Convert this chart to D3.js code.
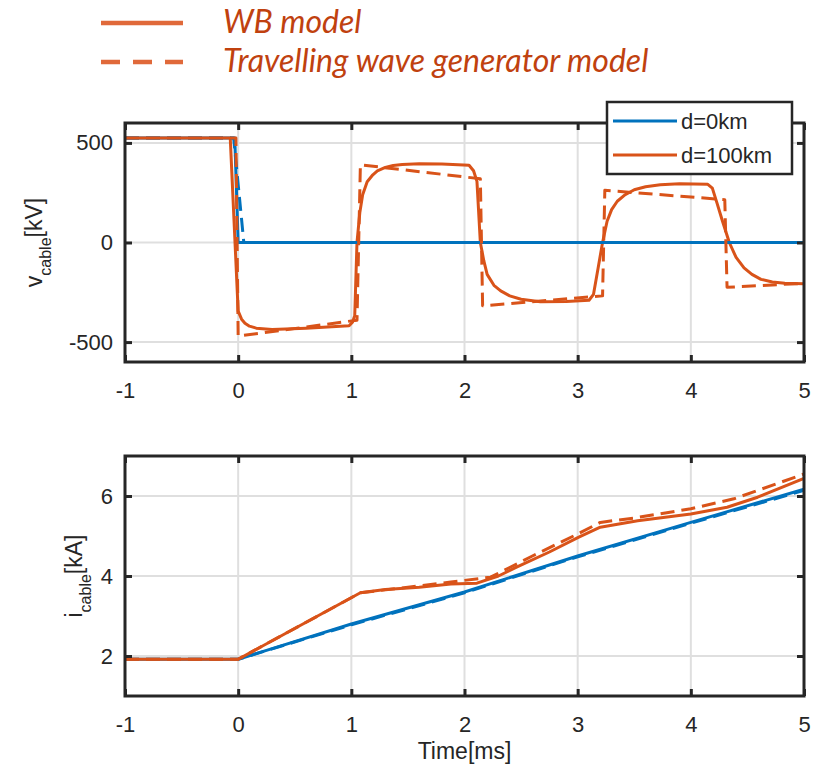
<!DOCTYPE html>
<html>
<head>
<meta charset="utf-8">
<script src="https://cdn.jsdelivr.net/npm/d3@7"></script>
<style>
  body { margin: 0; background: #fff; }
  svg { display: block; }
  text { font-family: "Liberation Sans", Arial, Helvetica, sans-serif; fill: #262626; }
</style>
</head>
<body>
<div id="chart"></div>
<script>
// ---------------- data ----------------
const xTicks = [-1, 0, 1, 2, 3, 4, 5];
const vTicks = [-500, 0, 500];
const iTicks = [2, 4, 6];

// voltage, d=0km
const vWB0_t = [-1, -0.03, 0.0, 5];
const vWB0_v = [525, 525, 0, 0];
const vTW0_t = [-1, -0.04, 0.05, 5];
const vTW0_v = [525, 525, 0, 0];

// voltage, d=100km, WB model
const vWB100_t = [-1, -0.07, 0.0, 0.03, 0.06, 0.1, 0.16, 0.3, 0.6, 0.98, 1.01, 1.03, 1.05, 1.075, 1.1, 1.14, 1.19, 1.23, 1.3, 1.37, 1.45, 1.6, 1.8, 2.04, 2.08, 2.11, 2.14, 2.17, 2.2, 2.26, 2.32, 2.4, 2.5, 2.67, 2.9, 3.1, 3.14, 3.18, 3.22, 3.26, 3.3, 3.35, 3.42, 3.5, 3.6, 3.73, 3.9, 4.15, 4.19, 4.23, 4.28, 4.34, 4.4, 4.47, 4.54, 4.62, 4.72, 4.83, 5];
const vWB100_v = [525, 525, -345, -385, -405, -420, -430, -437, -430, -418, -400, -368, 0, 150, 240, 305, 340, 360, 377, 387, 392, 396, 394, 388, 360, 307, 0, -90, -160, -215, -243, -268, -285, -297, -296, -290, -260, -130, 0, 107, 165, 207, 240, 265, 280, 290, 295, 292, 273, 200, 107, 0, -75, -127, -160, -185, -198, -205, -207];

// voltage, d=100km, travelling wave generator model
const vTW100_t = [-1, -0.02, 0.0, 1.05, 1.08, 2.14, 2.16, 3.22, 3.24, 4.3, 4.32, 5];
const vTW100_v = [525, 525, -470, -390, 390, 320, -318, -268, 262, 215, -225, -205];

// current, d=0km
const iWB0_t = [-1, 0, 1, 2, 3, 4, 5];
const iWB0_v = [1.92, 1.92, 2.8, 3.6, 4.5, 5.34, 6.17];
const iTW0_t = [-1, 0, 1, 2, 3, 4, 5];
const iTW0_v = [1.92, 1.92, 2.78, 3.58, 4.48, 5.32, 6.14];

// current, d=100km
const iWB100_t = [-1, 0, 1.08, 1.3, 1.6, 1.88, 2.11, 2.3, 2.46, 2.75, 3.01, 3.2, 3.53, 4.0, 4.32, 4.59, 5];
const iWB100_v = [1.92, 1.92, 3.58, 3.66, 3.72, 3.8, 3.82, 4.0, 4.22, 4.6, 4.97, 5.22, 5.38, 5.55, 5.72, 5.97, 6.44];
const iTW100_t = [-1, 0, 1.08, 1.5, 1.88, 2.23, 2.6, 3.0, 3.2, 3.5, 4.0, 4.38, 5];
const iTW100_v = [1.92, 1.92, 3.58, 3.72, 3.85, 3.97, 4.5, 5.05, 5.34, 5.45, 5.68, 5.93, 6.55];

const legendTop = ["WB model", "Travelling wave generator model"];
const legendBox = ["d=0km", "d=100km"];

// ---------------- setup ----------------
const width = 828, height = 770;
const blue = "#0072BD", orange = "#D95319";
const axisColor = "#262626", gridColor = "#dfdfdf";

const svg = d3.select("#chart").append("svg")
  .attr("width", width).attr("height", height);

const xScale = d3.scaleLinear().domain([-1, 5]).range([125, 804]);
const fmt = d => String(d); // plain hyphen minus, like the original

const zip = (t, v) => t.map((d, i) => ({ t: d, v: v[i] }));

function panel(cfg) {
  const y = d3.scaleLinear().domain(cfg.domain).range([cfg.bottom, cfg.top]);
  const g = svg.append("g");
  const x0 = xScale.range()[0], x1 = xScale.range()[1];

  // grid
  g.append("g").selectAll("line").data(xTicks.slice(1, -1)).join("line")
    .attr("x1", d => xScale(d)).attr("x2", d => xScale(d))
    .attr("y1", cfg.top).attr("y2", cfg.bottom)
    .attr("stroke", gridColor).attr("stroke-width", 2);
  g.append("g").selectAll("line").data(cfg.ticks).join("line")
    .attr("x1", x0).attr("x2", x1)
    .attr("y1", d => y(d)).attr("y2", d => y(d))
    .attr("stroke", gridColor).attr("stroke-width", 2);

  // lines
  const line = d3.line().x(d => xScale(d.t)).y(d => y(d.v));
  cfg.series.forEach(s => {
    g.append("path").datum(zip(s.t, s.v))
      .attr("d", line)
      .attr("fill", "none")
      .attr("stroke", s.color)
      .attr("stroke-width", 3)
      .attr("stroke-linejoin", "round")
      .attr("stroke-dasharray", s.dash ? "14,7" : null);
  });

  // axes (inward ticks on all sides)
  const style = sel => {
    sel.select(".domain").remove();
    sel.selectAll(".tick line").attr("stroke", axisColor).attr("stroke-width", 3);
    sel.selectAll(".tick text").style("font-size", "22px").attr("fill", axisColor);
  };
  g.append("g").attr("transform", `translate(0,${cfg.bottom})`)
    .call(d3.axisBottom(xScale).tickValues(xTicks).tickSize(-7).tickPadding(20).tickFormat(fmt))
    .call(style);
  g.append("g").attr("transform", `translate(0,${cfg.top})`)
    .call(d3.axisTop(xScale).tickValues(xTicks).tickSize(-7).tickFormat(""))
    .call(style);
  g.append("g").attr("transform", `translate(${x0},0)`)
    .call(d3.axisLeft(y).tickValues(cfg.ticks).tickSize(-7).tickPadding(12).tickFormat(fmt))
    .call(style);
  g.append("g").attr("transform", `translate(${x1},0)`)
    .call(d3.axisRight(y).tickValues(cfg.ticks).tickSize(-7).tickFormat(""))
    .call(style);
  g.selectAll("g").attr("font-family", null);

  g.append("rect")
    .attr("x", x0).attr("y", cfg.top)
    .attr("width", x1 - x0).attr("height", cfg.bottom - cfg.top)
    .attr("fill", "none").attr("stroke", axisColor).attr("stroke-width", 3);

  // y label
  const lab = g.append("text")
    .attr("transform", `translate(${cfg.labelX},${(cfg.top + cfg.bottom) / 2}) rotate(-90)`)
    .attr("text-anchor", "middle")
    .style("font-size", "23px");
  lab.append("tspan").text(cfg.label[0]);
  lab.append("tspan").attr("dy", 9).style("font-size", "16px").text("cable");
  lab.append("tspan").attr("dy", -9).text(cfg.label[1]);

  return y;
}

panel({
  top: 123, bottom: 362, domain: [-600, 600], ticks: vTicks,
  labelX: 42, label: ["v", "[kV]"],
  series: [
    { t: vWB0_t, v: vWB0_v, color: blue },
    { t: vWB100_t, v: vWB100_v, color: orange },
    { t: vTW0_t, v: vTW0_v, color: blue, dash: true },
    { t: vTW100_t, v: vTW100_v, color: orange, dash: true }
  ]
});

panel({
  top: 456, bottom: 696, domain: [1, 7], ticks: iTicks,
  labelX: 82, label: ["i", "[kA]"],
  series: [
    { t: iWB0_t, v: iWB0_v, color: blue },
    { t: iTW0_t, v: iTW0_v, color: blue, dash: true },
    { t: iWB100_t, v: iWB100_v, color: orange },
    { t: iTW100_t, v: iTW100_v, color: orange, dash: true }
  ]
});

// x label
svg.append("text")
  .attr("x", (xScale.range()[0] + xScale.range()[1]) / 2).attr("y", 759)
  .attr("text-anchor", "middle").style("font-size", "23px")
  .text("Time[ms]");

// legend inside top panel
const lg = svg.append("g");
lg.append("rect").attr("x", 607).attr("y", 102).attr("width", 185).attr("height", 72)
  .attr("fill", "#fff").attr("stroke", axisColor).attr("stroke-width", 2.5);
legendBox.forEach((name, i) => {
  const yy = 121 + i * 34;
  lg.append("line").attr("x1", 613).attr("x2", 677).attr("y1", yy).attr("y2", yy)
    .attr("stroke", i === 0 ? blue : orange).attr("stroke-width", 3);
  lg.append("text").attr("x", 681).attr("y", yy + 8).style("font-size", "22px").text(name);
});

// legend on top of figure
const tl = svg.append("g");
legendTop.forEach((name, i) => {
  const yy = 23 + i * 39;
  tl.append("line").attr("x1", 101).attr("x2", 183).attr("y1", yy).attr("y2", yy)
    .attr("stroke", "#E0693A").attr("stroke-width", 4.5)
    .attr("stroke-dasharray", i === 1 ? "19,13" : null);
  tl.append("text").attr("x", 223).attr("y", yy + 10)
    .style("font-family", "Lato, sans-serif").style("font-style", "italic")
    .style("font-size", "32px").style("fill", "#C0410F")
    .text(name);
});
</script>
</body>
</html>
